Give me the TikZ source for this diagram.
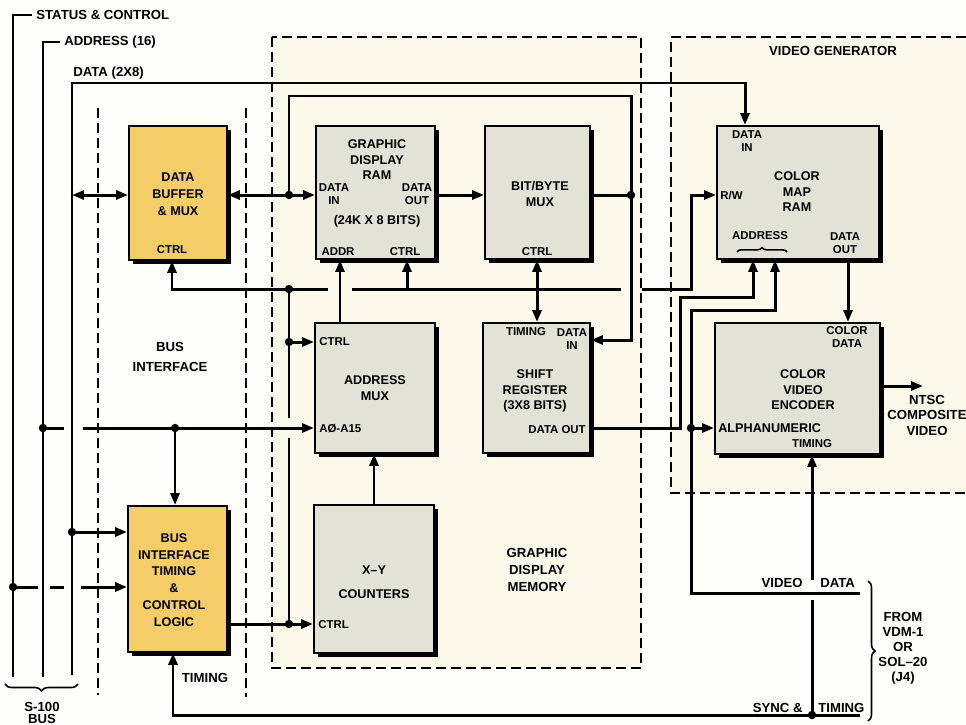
\documentclass[tikz,border=0pt]{standalone}
\usepackage{fontspec}
\setmainfont{Liberation Sans}
\usetikzlibrary{arrows.meta, calc, shadows, decorations.pathreplacing}

\definecolor{gold}{RGB}{244,205,104}
\definecolor{panel}{RGB}{226,226,214}
\definecolor{cream}{RGB}{251,249,234}
\definecolor{paper}{RGB}{254,254,251}

\begin{document}
\begin{tikzpicture}[
      x=0.02cm, y=-0.02cm,
      block/.style={rectangle, draw, line width=1.1pt, fill=panel, inner sep=0pt,
        drop shadow={shadow xshift=0.8mm, shadow yshift=-0.8mm, fill=black, opacity=1}},
      ioblock/.style={block, fill=gold},
      title/.style={font=\fontsize{7.2}{8.8}\selectfont\bfseries, align=center, inner sep=0pt},
      iotitle/.style={title, font=\fontsize{7.2}{9.6}\selectfont\bfseries},
      port/.style={font=\fontsize{6.5}{7}\selectfont\bfseries, align=center, inner sep=0pt},
      note/.style={font=\fontsize{7.5}{9.5}\selectfont\bfseries, align=center, inner sep=0pt},
      bus/.style={line width=1.7pt},
      arrow/.style={bus, -{Triangle[length=2.4mm, width=1.8mm]}},
      twoway/.style={bus, {Triangle[length=2.4mm, width=1.8mm]}-{Triangle[length=2.4mm, width=1.8mm]}},
      zone/.style={line width=0.6pt, dash pattern=on 2mm off 1mm},
      curly/.style={line width=0.9pt, decorate, decoration={brace, amplitude=#1}}
    ]

    \useasboundingbox (0,0) rectangle (966,724);
    \fill[paper] (0,0) rectangle (966,724);

    \fill[cream] (272,37) rectangle (641,668);
    \draw[zone] (272,37) rectangle (641,668);
    \fill[cream] (671,37) rectangle (966,493);
    \draw[zone] (966,37) -- (671,37) -- (671,493) -- (966,493);
    \draw[zone] (98,108) -- (98,695);
    \draw[zone] (246,108) -- (246,697);

    \node[ioblock, minimum width=1.96cm, minimum height=2.68cm] (buf) at (178,193) {};
    \node[block, minimum width=2.38cm, minimum height=2.66cm] (gdram) at (375.5,192.5) {};
    \node[block, minimum width=2.1cm, minimum height=2.66cm] (bbmux) at (537.5,192.5) {};
    \node[block, minimum width=2.4cm, minimum height=2.6cm] (amux) at (375,388) {};
    \node[block, minimum width=2.14cm, minimum height=2.6cm] (shreg) at (536.5,388) {};
    \node[block, minimum width=2.4cm, minimum height=2.96cm] (xycnt) at (374,579) {};
    \node[ioblock, minimum width=1.98cm, minimum height=2.92cm] (bitl) at (177.5,579) {};
    \node[block, minimum width=3.24cm, minimum height=2.66cm] (cmap) at (798,192.5) {};
    \node[block, minimum width=3.3cm, minimum height=2.62cm] (venc) at (797.5,388.5) {};

    \node[iotitle] (bufT) at (178,194) {DATA\\BUFFER\\\& MUX};
    \node[port] (bufC) at (172,250) {CTRL};
    \node[title] (gdramT) at (377,160) {GRAPHIC\\DISPLAY\\RAM};
    \node[port] (gdramDi) at (334,194) {DATA\\IN};
    \node[port] (gdramDo) at (417,194) {DATA\\OUT};
    \node[title] (gdramS) at (377,221) {(24K X 8 BITS)};
    \node[port] (gdramA) at (338,252) {ADDR};
    \node[port] (gdramC) at (405,252) {CTRL};
    \node[title] (bbmuxT) at (540,194) {BIT/BYTE\\MUX};
    \node[port] (bbmuxC) at (537,252) {CTRL};
    \node[port, anchor=west] (amuxC) at (319,342) {CTRL};
    \node[title] (amuxT) at (375,388) {ADDRESS\\MUX};
    \node[port, anchor=west] (amuxA) at (319,429) {A\O-A15};
    \node[port] (shregT) at (526,332) {TIMING};
    \node[port] (shregDi) at (572,339) {DATA\\IN};
    \node[title] (shregN) at (535,391) {SHIFT\\REGISTER\\(3X8 BITS)};
    \node[port, anchor=east] (shregDo) at (586,430) {DATA OUT};
    \node[title, font=\fontsize{7.2}{13.5}\selectfont\bfseries] (xyT) at (374,582) {X--Y\\COUNTERS};
    \node[port, anchor=west] (xyC) at (318,625) {CTRL};
    \node[iotitle] (bitlT) at (174,580) {BUS\\INTERFACE\\TIMING\\\&\\CONTROL\\LOGIC};
    \node[port] (cmapDi) at (747,141) {DATA\\IN};
    \node[title] (cmapT) at (797,192) {COLOR\\MAP\\RAM};
    \node[port, anchor=west] (cmapRw) at (720,195) {R/W};
    \node[port] (cmapA) at (760,236) {ADDRESS};
    \node[port] (cmapDo) at (845,243) {DATA\\OUT};
    \node[port] (vencCd) at (847,337) {COLOR\\DATA};
    \node[title] (vencT) at (803,390) {COLOR\\VIDEO\\ENCODER};
    \node[title, anchor=west] (vencA) at (718,428) {ALPHANUMERIC};
    \node[port] (vencTm) at (812,444) {TIMING};

    \node[note, anchor=west] (stLbl) at (36,15) {STATUS \& CONTROL};
    \node[note, anchor=west] (adLbl) at (64,42) {ADDRESS (16)};
    \node[note, anchor=west] (daLbl) at (73,73) {DATA (2X8)};
    \node[note, font=\fontsize{7.5}{11.3}\selectfont\bfseries] (busLbl) at (170,357) {BUS\\INTERFACE};
    \node[note] (gdmLbl) at (537,570) {GRAPHIC\\DISPLAY\\MEMORY};
    \node[note] (vgLbl) at (833,51) {VIDEO GENERATOR};
    \node[note, font=\fontsize{7.5}{8.8}\selectfont\bfseries] (ntscLbl) at (927,415) {NTSC\\COMPOSITE\\VIDEO};
    \node[note, anchor=east] (vdLblL) at (803,583) {VIDEO};
    \node[note, anchor=west] (vdLblR) at (820,583) {DATA};
    \node[note, anchor=east] (syLblL) at (803,708) {SYNC \&};
    \node[note, anchor=west] (syLblR) at (818,708) {TIMING};
    \node[note, font=\fontsize{7.5}{8.6}\selectfont\bfseries] (fromLbl) at (903,648) {FROM\\VDM-1\\OR\\SOL--20\\(J4)};
    \node[note] (tmLbl) at (205,678) {TIMING};
    \node[note, font=\fontsize{7.5}{7.2}\selectfont\bfseries] (s100Lbl) at (42,713) {S-100\\BUS};

    \coordinate (stEnd) at (13,677);
    \coordinate (adEnd) at (43,677);
    \coordinate (daEnd) at (72,675);
    \coordinate (daTop) at (745,83);
    \draw[bus] ([xshift=-2pt]stLbl.west) -| (stEnd);
    \draw[bus] ([xshift=-2pt]adLbl.west) -| (adEnd);
    \draw[arrow] (daEnd) |- (daTop) -- (cmap.north -| daTop);

    \coordinate (dBusL) at (72,195);
    \coordinate (dJoin) at (289,195);
    \coordinate (loopR) at (631,96);
    \coordinate (dOut) at (631,195);
    \coordinate (shIn) at (631,340);
    \draw[twoway] (dBusL) -- (buf.west |- dBusL);
    \draw[twoway] (buf.east |- dJoin) -- (gdram.west |- dJoin);
    \draw[bus] (dJoin) |- (loopR) -- (dOut);
    \draw[arrow] (gdram.east |- dJoin) -- (bbmux.west |- dJoin);
    \draw[bus] (bbmux.east |- dOut) -- (dOut);
    \draw[arrow] (dOut) -- (shIn) -- (shreg.east |- shIn);

    \coordinate (cBuf) at (172,289);
    \coordinate (cJoin) at (289,289);
    \coordinate (cGap1) at (328,289);
    \coordinate (cGap2) at (352,289);
    \coordinate (cRam) at (407,289);
    \coordinate (cMux) at (537,289);
    \coordinate (cGap3) at (621,289);
    \coordinate (cGap4) at (642,289);
    \coordinate (rwBend) at (691,289);
    \coordinate (rwTop) at (691,195);
    \coordinate (aRam) at (340,300);
    \draw[arrow] (cJoin) -- (cBuf) -- (buf.south -| cBuf);
    \draw[bus] (cJoin) -- (cGap1);
    \draw[bus] (cGap2) -- (cGap3);
    \draw[arrow] (cGap4) -- (rwBend) -- (rwTop) -- (cmap.west |- rwTop);
    \draw[arrow] (cRam) -- (gdram.south -| cRam);
    \draw[twoway] (bbmux.south -| cMux) -- (shreg.north -| cMux);
    \draw[arrow] (amux.north -| aRam) -- (gdram.south -| aRam);

    \coordinate (cCtrl) at (289,342);
    \coordinate (cGap5) at (289,418);
    \coordinate (cGap6) at (289,438);
    \coordinate (cXy) at (289,624);
    \draw[bus] (cJoin) -- (cGap5);
    \draw[bus] (cGap6) -- (cXy);
    \draw[arrow] (cCtrl) -- (amux.west |- cCtrl);
    \draw[arrow] (bitl.east |- cXy) -- (xycnt.west |- cXy);
    \draw[arrow] (xycnt.north) -- (amux.south -| xycnt.north);

    \coordinate (aTap) at (43,428);
    \coordinate (aStub) at (64,428);
    \coordinate (aGo) at (83,428);
    \coordinate (aJoin) at (175,428);
    \draw[bus] (aTap) -- (aStub);
    \draw[arrow] (aGo) -- (amux.west |- aGo);
    \draw[arrow] (aJoin) -- (bitl.north -| aJoin);

    \coordinate (sTap) at (13,587);
    \coordinate (sGap1) at (38,587);
    \coordinate (sGap2) at (50,587);
    \coordinate (sGap3) at (64,587);
    \coordinate (sGap4) at (81,587);
    \coordinate (dTap) at (72,532);
    \draw[bus] (sTap) -- (sGap1);
    \draw[bus] (sGap2) -- (sGap3);
    \draw[arrow] (sGap4) -- (bitl.west |- sGap4);
    \draw[arrow] (dTap) -- (bitl.west |- dTap);

    \coordinate (soBend) at (680,428);
    \coordinate (soTop) at (680,297);
    \coordinate (soUp) at (753,297);
    \draw[arrow] (shreg.east |- soBend) -- (soBend) -- (soTop) -- (soUp) -- (cmap.south -| soUp);

    \coordinate (vdEnd) at (860,593);
    \coordinate (vdBend) at (691,593);
    \coordinate (vdJoin) at (691,428);
    \coordinate (vdTop) at (691,310);
    \coordinate (vdUp) at (775,310);
    \draw[arrow] (vdEnd) -- (vdBend) -- (vdTop) -- (vdUp) -- (cmap.south -| vdUp);
    \draw[arrow] (vdJoin) -- (venc.west |- vdJoin);

    \coordinate (cdX) at (848,290);
    \coordinate (ntscEnd) at (923,386);
    \draw[arrow] (cmap.south -| cdX) -- (venc.north -| cdX);
    \draw[arrow] (venc.east |- ntscEnd) -- (ntscEnd);

    \coordinate (tEnd) at (860,715);
    \coordinate (tJoin) at (812,715);
    \coordinate (tBend) at (173,715);
    \coordinate (tGap1) at (812,600);
    \coordinate (tGap2) at (812,580);
    \draw[arrow] (tEnd) -- (tBend) -- (bitl.south -| tBend);
    \draw[bus] (tJoin) -- (tGap1);
    \draw[arrow] (tGap2) -- (venc.south -| tJoin);

    \foreach \j in {dJoin, dOut, cJoin, cCtrl, cXy, aTap, aJoin, sTap, dTap, vdJoin, tJoin}
      \fill (\j) circle (2.4pt);

    \coordinate (s100R) at (78,684);
    \coordinate (s100L) at (5,684);
    \coordinate (fromT) at (868,581);
    \coordinate (fromB) at (868,721);
    \coordinate (addrL) at (737,252);
    \coordinate (addrR) at (787,252);
    \draw[curly=4pt] (s100R) -- (s100L);
    \draw[curly=4pt] (fromT) -- (fromB);
    \draw[curly=2.5pt] (addrL) -- (addrR);
  \end{tikzpicture}
\end{document}
